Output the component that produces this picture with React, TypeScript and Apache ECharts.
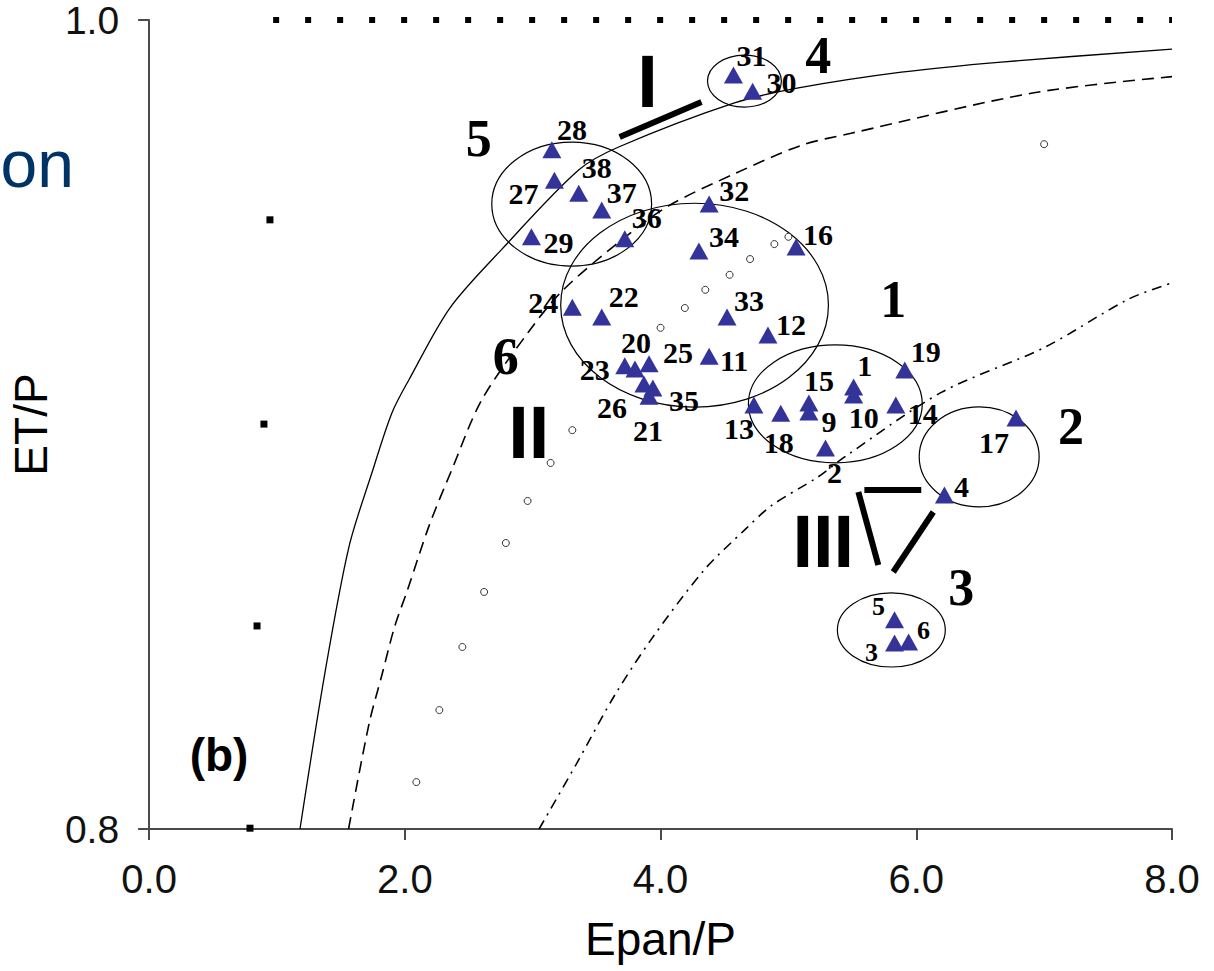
import React, { useEffect, useRef } from "react";
import * as echarts from "echarts";

// ---- axis ----
const xMin = 0, xMax = 8, xInterval = 2;
const yMin = 0.8, yMax = 1.0, yInterval = 0.2;

// ---- curves ----
const solidX = [1.18, 1.375, 1.5625, 1.742, 1.898, 2.031, 2.352, 2.758, 3.359, 3.672, 4.578, 5.078, 5.883, 6.664, 8.0];
const solidY = [0.8, 0.8386, 0.8697, 0.888, 0.9028, 0.911, 0.9288, 0.9433, 0.9629, 0.9686, 0.9795, 0.9832, 0.9871, 0.9896, 0.9928];

const dashedX = [1.56, 1.72, 1.82, 1.92, 2.02, 2.19, 2.37, 2.6, 2.97, 3.23, 3.67, 4.06, 4.58, 5.1, 5.49, 6.92, 8.0];
const dashedY = [0.8, 0.826, 0.838, 0.85, 0.859, 0.875, 0.889, 0.906, 0.923, 0.933, 0.945, 0.954, 0.962, 0.969, 0.972, 0.982, 0.986];

const dashDotX = [3.05, 3.34, 3.64, 3.93, 4.34, 4.66, 4.87, 5.23, 5.44, 6.2, 7.0, 7.66, 8.0];
const dashDotY = [0.8, 0.816, 0.833, 0.847, 0.864, 0.874, 0.88, 0.887, 0.892, 0.908, 0.919, 0.931, 0.935];

// upper limit ET/P = 1
const limitX = [0.97, 8.0];
const limitY = [1.0, 1.0];

// black squares (energy limit)
const squareX = [0.945, 0.898, 0.844, 0.789];
const squareY = [0.9506, 0.9001, 0.8502, 0.8002];

// open circles
const circleX = [7.0, 5.0, 4.89, 4.7, 4.54, 4.35, 4.19, 4.0, 3.31, 3.14, 2.96, 2.79, 2.62, 2.45, 2.27, 2.09];
const circleY = [0.9693, 0.9464, 0.9446, 0.9409, 0.937, 0.9333, 0.9288, 0.9239, 0.8986, 0.8905, 0.8811, 0.8707, 0.8586, 0.845, 0.8294, 0.8116];

// triangles (catchments)
const triIds = [1, 2, 3, 4, 5, 6, 9, 10, 11, 12, 13, 14, 15, 16, 17, 18, 19, 20, 21, 22, 23, 24, 25, 26, 27, 28, 29, 30, 31, 32, 33, 34, 35, 36, 37, 38];
const triX = [5.51, 5.29, 5.83, 6.22, 5.83, 5.94, 5.16, 5.51, 4.38, 4.84, 4.73, 5.84, 5.16, 5.06, 6.78, 4.94, 5.91, 3.8, 3.91, 3.54, 3.72, 3.31, 3.91, 3.87, 3.17, 3.15, 2.99, 4.72, 4.57, 4.38, 4.52, 4.3, 3.94, 3.72, 3.54, 3.36];
const triY = [0.9093, 0.8942, 0.846, 0.8826, 0.8517, 0.8462, 0.9031, 0.9073, 0.9169, 0.9221, 0.9048, 0.9048, 0.9053, 0.9439, 0.9016, 0.9028, 0.9135, 0.9137, 0.907, 0.9266, 0.9145, 0.929, 0.915, 0.91, 0.9604, 0.9679, 0.9464, 0.9824, 0.9864, 0.9545, 0.9266, 0.9429, 0.909, 0.9459, 0.953, 0.9572];

// label offsets in px (style)
const labelOffset: Record<number, [number, number]> = {
  1: [11, -21], 2: [9, 25], 3: [-23, 10], 4: [17, -8], 5: [-16, -13], 6: [15, -12],
  9: [20, 10], 10: [10, 23], 11: [25, 4], 12: [23, -11], 13: [-15, 23], 14: [27, 8],
  15: [10, -23], 16: [22, -12], 17: [-22, 24], 18: [-2, 29], 19: [21, -18], 20: [1, -27],
  21: [-1, 34], 22: [22, -20], 23: [-30, 4], 24: [-29, -5], 25: [29, -11], 26: [-32, 23],
  27: [-31, 13], 28: [20, -20], 29: [27, 6], 30: [29, -9], 31: [18, -20], 32: [25, -14],
  33: [22, -16], 34: [25, -14], 35: [31, 12], 36: [22, -21], 37: [20, -18], 38: [18, -26],
};
const smallLabelIds = [3, 5, 6];

// ---- annotations (data coords) ----
const ellipses = [
  { cx: 4.656, cy: 0.9849, rx: 0.289, ry: 0.00643 },
  { cx: 3.305, cy: 0.9545, rx: 0.625, ry: 0.01533 },
  { cx: 4.266, cy: 0.9295, rx: 1.047, ry: 0.0252 },
  { cx: 5.367, cy: 0.9051, rx: 0.68, ry: 0.01459 },
  { cx: 6.492, cy: 0.892, rx: 0.469, ry: 0.01236 },
  { cx: 5.805, cy: 0.8492, rx: 0.422, ry: 0.00915 },
];
const groupLabels = [
  { t: "4", x: 5.234, y: 0.9913 },
  { t: "5", x: 2.578, y: 0.9706 },
  { t: "1", x: 5.82, y: 0.9308 },
  { t: "6", x: 2.789, y: 0.9169 },
  { t: "2", x: 7.211, y: 0.8996 },
  { t: "3", x: 6.352, y: 0.8598 },
];
const romanLabels = [
  { t: "I", x: 3.898, y: 0.9847 },
  { t: "II", x: 2.969, y: 0.8981 },
  { t: "III", x: 5.273, y: 0.871 },
];
const thickLines = [
  [3.68, 0.97108, 4.32, 0.97973],
  [5.594, 0.88381, 6.039, 0.88381],
  [5.547, 0.88331, 5.703, 0.86527],
  [5.82, 0.86354, 6.133, 0.87837],
];
const panelLabel = { t: "(b)", x: 0.547, y: 0.8183 };

const zip = (a: number[], b: number[]) => a.map((v, i) => [v, b[i]]);

export default function App() {
  const ref = useRef<HTMLDivElement>(null);
  useEffect(() => {
    const chart = echarts.init(ref.current!, null, { renderer: "svg" });
    const axisColor = "#4a4a4a";
    const option: any = {
      animation: false,
      backgroundColor: "#fff",
      grid: { left: 147, right: 42, top: 20, bottom: 142, containLabel: false },
      xAxis: {
        type: "value",
        min: xMin,
        max: xMax,
        interval: xInterval,
        name: "Epan/P",
        nameLocation: "middle",
        nameGap: 87,
        nameTextStyle: { fontFamily: "Liberation Sans", fontSize: 46, color: "#000" },
        axisLine: { show: true, lineStyle: { color: axisColor, width: 2 } },
        axisTick: { show: true, inside: false, length: 11, lineStyle: { color: axisColor, width: 2 } },
        axisLabel: {
          margin: 30,
          fontFamily: "Liberation Sans",
          fontSize: 40,
          color: "#111",
          formatter: (v: number) => v.toFixed(1),
        },
        splitLine: { show: false },
      },
      yAxis: {
        type: "value",
        min: yMin,
        max: yMax,
        interval: yInterval,
        name: "ET/P",
        nameLocation: "middle",
        nameRotate: 90,
        nameGap: 85,
        nameTextStyle: { fontFamily: "Liberation Sans", fontSize: 46, color: "#000" },
        axisLine: { show: true, lineStyle: { color: axisColor, width: 2 } },
        axisTick: { show: true, inside: false, length: 11, lineStyle: { color: axisColor, width: 2 } },
        axisLabel: {
          margin: 30,
          fontFamily: "Liberation Sans",
          fontSize: 39,
          color: "#111",
          padding: [3, 0, 0, 0],
          formatter: (v: number) => v.toFixed(1),
        },
        splitLine: { show: false },
      },
      series: [
        {
          type: "line",
          data: zip(limitX, limitY),
          symbol: "none",
          clip: false,
          lineStyle: { color: "#000", width: 6, type: [6, 26], cap: "butt" },
          z: 3,
        },
        {
          type: "line",
          data: zip(solidX, solidY),
          symbol: "none",
          smooth: 0.3,
          lineStyle: { color: "#000", width: 1.3 },
        },
        {
          type: "line",
          data: zip(dashedX, dashedY),
          symbol: "none",
          smooth: 0.3,
          lineStyle: { color: "#000", width: 1.6, type: [12, 7] },
        },
        {
          type: "line",
          data: zip(dashDotX, dashDotY),
          symbol: "none",
          smooth: 0.3,
          lineStyle: { color: "#000", width: 1.6, type: [10, 6, 2, 6] },
        },
        {
          type: "scatter",
          data: zip(squareX, squareY),
          symbol: "rect",
          symbolSize: 7,
          clip: false,
          itemStyle: { color: "#000", opacity: 1 },
        },
        {
          type: "scatter",
          data: zip(circleX, circleY),
          symbol: "circle",
          symbolSize: 7,
          itemStyle: { color: "#fff", borderColor: "#333", borderWidth: 1, opacity: 1 },
        },
        {
          type: "scatter",
          z: 5,
          symbol: "triangle",
          symbolSize: [19, 17],
          itemStyle: { color: "#333399", opacity: 1 },
          data: triIds.map((id, i) => ({
            name: String(id),
            value: [triX[i], triY[i]],
            label: {
              show: true,
              position: "inside",
              offset: labelOffset[id] || [20, -15],
              formatter: String(id),
              fontFamily: "Liberation Serif",
              fontWeight: "bold",
              fontSize: smallLabelIds.indexOf(id) >= 0 ? 26 : 30,
              color: "#000",
              textBorderWidth: 0,
              textBorderColor: "transparent",
              align: "center",
              verticalAlign: "middle",
            },
          })),
        },
      ],
    };
    chart.setOption(option);

    const toPx = (x: number, y: number) =>
      chart.convertToPixel({ xAxisIndex: 0, yAxisIndex: 0 }, [x, y]) as number[];
    const graphics: any[] = [];
    ellipses.forEach((e) => {
      const c = toPx(e.cx, e.cy);
      const r = toPx(e.cx + e.rx, e.cy + e.ry);
      graphics.push({
        type: "ellipse",
        z: 1,
        shape: { cx: c[0], cy: c[1], rx: Math.abs(r[0] - c[0]), ry: Math.abs(r[1] - c[1]) },
        style: { fill: "none", stroke: "#000", lineWidth: 1.2 },
      });
    });
    thickLines.forEach((l) => {
      const a = toPx(l[0], l[1]);
      const b = toPx(l[2], l[3]);
      graphics.push({
        type: "line",
        z: 4,
        shape: { x1: a[0], y1: a[1], x2: b[0], y2: b[1] },
        style: { stroke: "#000", lineWidth: 6 },
      });
    });
    groupLabels.forEach((g) => {
      const p = toPx(g.x, g.y);
      graphics.push({
        type: "text",
        z: 6,
        x: p[0],
        y: p[1],
        style: {
          text: g.t,
          fontFamily: "Liberation Serif",
          fontWeight: "bold",
          fontSize: 52,
          fill: "#000",
          align: "center",
          verticalAlign: "middle",
        },
      });
    });
    romanLabels.forEach((g) => {
      const p = toPx(g.x, g.y);
      graphics.push({
        type: "text",
        z: 6,
        x: p[0],
        y: p[1],
        style: {
          text: g.t,
          fontFamily: "Liberation Sans",
          fontWeight: "bold",
          fontSize: 74,
          fill: "#000",
          align: "center",
          verticalAlign: "middle",
        },
      });
    });
    {
      const p = toPx(panelLabel.x, panelLabel.y);
      graphics.push({
        type: "text",
        z: 6,
        x: p[0],
        y: p[1],
        style: {
          text: panelLabel.t,
          fontFamily: "Liberation Sans",
          fontWeight: "bold",
          fontSize: 46,
          fill: "#000",
          align: "center",
          verticalAlign: "middle",
        },
      });
    }
    graphics.push({
      type: "text",
      z: 6,
      x: 74,
      y: 164,
      style: {
        text: "on",
        fontFamily: "Liberation Sans",
        fontSize: 66,
        fill: "#003366",
        align: "right",
        verticalAlign: "middle",
      },
    });
    chart.setOption({ graphic: graphics });
    return () => chart.dispose();
  }, []);
  return (
    <div
      ref={ref}
      style={{ position: "fixed", left: 0, top: 0, width: 1214, height: 971, background: "#fff" }}
    />
  );
}
